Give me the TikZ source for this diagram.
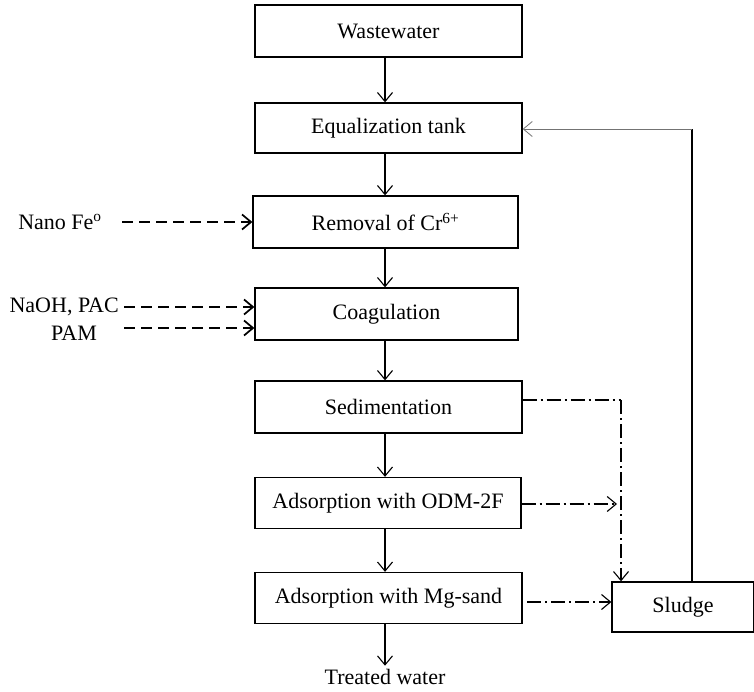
\documentclass[tikz,border=0pt]{standalone}
\usepackage{fontspec}
\setmainfont{Liberation Serif}
\usetikzlibrary{arrows.meta,calc}
\begin{document}
\begin{tikzpicture}[x=1pt,y=-1pt,
  font=\fontsize{22}{26}\selectfont,
  procbox/.style={draw,line width=1.3pt,minimum height=52pt,inner sep=0pt},
  flow/.style={line width=1.1pt,-{Straight Barb[length=9pt,width=15pt,line width=1.1pt]}},
  feed/.style={line width=1.7pt,dash pattern=on 11pt off 6pt,-{Straight Barb[length=9pt,width=15pt,line width=1.7pt,sep=0pt]}},
  waste/.style={line width=1.1pt,dash pattern=on 14pt off 4pt on 2pt off 4pt},
  wastearrow/.style={waste,-{Straight Barb[length=9pt,width=15pt,line width=1.1pt]}},
  recycle/.style={line width=0.8pt,draw=black!55,-{Straight Barb[length=9pt,width=15pt,line width=0.8pt]}}]
\useasboundingbox (0,0) rectangle (754,692);

% main treatment train
\node[procbox,minimum width=267pt] (ww)  at (388.5,31)  {Wastewater};
\node[procbox,minimum width=267pt,minimum height=50pt] (eq)  at (388.5,128) {Equalization tank};
\node[procbox,minimum width=265pt] (cr)  at (385.5,222) {Removal of Cr\textsuperscript{6+}};
\node[procbox,minimum width=263pt] (co)  at (386.5,314) {Coagulation};
\node[procbox,minimum width=267pt] (sed) at (388.5,407) {Sedimentation};
\node[procbox,minimum width=266pt,minimum height=51pt] (odm) at (388,503) {Adsorption with ODM-2F};
\node[procbox,minimum width=267pt,minimum height=51pt] (mg)  at (388.5,598) {Adsorption with Mg-sand};
\node[procbox,minimum width=142pt,minimum height=50pt] (sl)  at (683,607) {Sludge};
\node (tw) at (385,677) {Treated water};

% chemical dosing labels
\node (fe)   at (60,222) {Nano Fe\textsuperscript{o}};
\node[anchor=east,inner sep=1pt] (naoh) at (120,307) {NaOH, PAC};
\node (pam)  at (74,333) {PAM};

\coordinate (col) at (385,0);

% main flow
\draw[flow] (ww.south -| col) -- (eq.north -| col);
\draw[flow] (eq.south -| col) -- (cr.north -| col);
\draw[flow] (cr.south -| col) -- (co.north -| col);
\draw[flow] (co.south -| col) -- (sed.north -| col);
\draw[flow] (sed.south -| col) -- (odm.north -| col);
\draw[flow] (odm.south -| col) -- (mg.north -| col);
\draw[flow] (mg.south -| col) -- (tw.north -| col);

% dosing lines
\coordinate (feS)   at (122,222);
\coordinate (naohS) at (124,307);
\coordinate (pamS)  at (124,328);
\draw[feed] (feS) -- (cr.west |- feS);
\draw[feed] (naohS) -- (co.west |- naohS);
\draw[feed] (pamS) -- (co.west |- pamS);

% sludge lines
\coordinate (drop) at (621,400);
\coordinate (odmEnd) at (617,504);
\coordinate (mgS) at (527,602);
\draw[waste] (sed.east |- drop) -- (drop);
\draw[wastearrow] (drop) -- (sl.north -| drop);
\draw[wastearrow] (odm.east |- odmEnd) -- (odmEnd);
\draw[wastearrow] (mgS) -- (sl.west |- mgS);

% sludge recycle
\coordinate (up) at (692,129);
\draw[line width=1.1pt] (sl.north -| up) -- (up);
\draw[recycle] (up) -- (eq.east |- up);
\end{tikzpicture}
\end{document}
